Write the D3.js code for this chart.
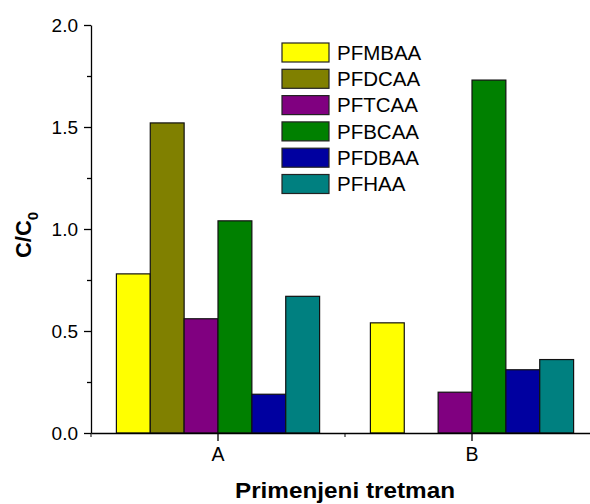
<!DOCTYPE html>
<html>
<head>
<meta charset="utf-8">
<script src="https://cdn.jsdelivr.net/npm/d3@7/dist/d3.min.js"></script>
<style>
  html, body { margin: 0; padding: 0; background: #fff; }
  svg { display: block; }
  text { font-family: "Liberation Sans", Arial, Helvetica, sans-serif; fill: #000; }
</style>
</head>
<body>
<svg id="chart" width="590" height="504"></svg>
<script>
// Treatments along the x axis
const categories = ["A", "B"];
// Compounds (one bar each per treatment)
const seriesNames = ["PFMBAA", "PFDCAA", "PFTCAA", "PFBCAA", "PFDBAA", "PFHAA"];
const seriesColors = ["#ffff00", "#808000", "#800080", "#008000", "#0000a0", "#008080"];
// C/C0 per compound, for A and B
const valuesA = [0.78, 1.52, 0.56, 1.04, 0.19, 0.67];
const valuesB = [0.54, 0.00, 0.20, 1.73, 0.31, 0.36];
const yTicks = [0, 0.5, 1.0, 1.5, 2.0];
const yMinorTicks = [0.25, 0.75, 1.25, 1.75];

const svg = d3.select("#chart");

const plotLeft = 91, plotRight = 599, plotTop = 25, plotBottom = 433;

const x = d3.scaleBand().domain(categories).range([plotLeft, plotRight]).padding(0);
const bw = x.bandwidth();
const xInner = d3.scaleBand().domain(seriesNames).range([bw * 0.1, bw * 0.9]).padding(0);
const y = d3.scaleLinear().domain([0, 2]).range([plotBottom, plotTop]);
const color = d3.scaleOrdinal().domain(seriesNames).range(seriesColors);

const rows = categories.map((c, i) => ({
  cat: c,
  vals: seriesNames.map((s, j) => ({ s, v: (i === 0 ? valuesA : valuesB)[j] }))
}));

// Bars
const groups = svg.append("g").selectAll("g").data(rows).join("g")
  .attr("transform", d => `translate(${x(d.cat)},0)`);
groups.selectAll("rect").data(d => d.vals.filter(e => e.v > 0)).join("rect")
  .attr("x", d => xInner(d.s))
  .attr("width", xInner.bandwidth())
  .attr("y", d => y(d.v))
  .attr("height", d => y(0) - y(d.v))
  .attr("fill", d => color(d.s))
  .attr("stroke", "#111")
  .attr("stroke-width", 1.2);

// Y axis
const yAxis = svg.append("g").attr("transform", `translate(${plotLeft},0)`)
  .call(d3.axisLeft(y).tickValues(yTicks).tickFormat(d3.format(".1f")).tickSize(7).tickPadding(6).tickSizeOuter(0));
yAxis.selectAll("text").style("font-size", "19px");
svg.append("g").attr("transform", `translate(${plotLeft},0)`)
  .call(d3.axisLeft(y).tickValues(yMinorTicks).tickFormat("").tickSize(4).tickSizeOuter(0))
  .select(".domain").remove();

// X axis
const xAxis = svg.append("g").attr("transform", `translate(0,${plotBottom})`)
  .call(d3.axisBottom(x).tickSize(8).tickPadding(6).tickSizeOuter(0));
xAxis.selectAll("text").style("font-size", "19.5px");
const xMinor = categories.map(c => x(c)).concat([x(categories[categories.length - 1]) + bw]);
svg.append("g").selectAll("line").data(xMinor).join("line")
  .attr("x1", d => d).attr("x2", d => d)
  .attr("y1", plotBottom).attr("y2", plotBottom + 4)
  .attr("stroke", "#000");

svg.selectAll(".domain, .tick line").attr("stroke", "#000").attr("stroke-width", 1.3);

// Axis titles
const xTitle = svg.append("text")
  .attr("x", (plotLeft + plotRight) / 2).attr("y", 498)
  .attr("text-anchor", "middle")
  .style("font-size", "21.5px").style("font-weight", "bold")
  .text("Primenjeni tretman");
// slightly wider lettering for the x title
xTitle.attr("textLength", xTitle.node().getComputedTextLength() * 1.13)
  .attr("lengthAdjust", "spacingAndGlyphs");

const yTitle = svg.append("text")
  .attr("transform", `translate(31,${(plotTop + plotBottom) / 2 + 6}) rotate(-90)`)
  .attr("text-anchor", "middle")
  .style("font-size", "22px").style("font-weight", "bold");
yTitle.append("tspan").text("C/C");
yTitle.append("tspan").attr("dy", 7).style("font-size", "15px").text("0");

// Legend
const legend = svg.append("g").attr("transform", "translate(282,43)");
const li = legend.selectAll("g").data(seriesNames).join("g")
  .attr("transform", (d, i) => `translate(0,${i * 26.3})`);
li.append("rect").attr("width", 47).attr("height", 19)
  .attr("fill", d => color(d)).attr("stroke", "#222").attr("stroke-width", 1.2);
li.append("text").attr("x", 55).attr("y", 9.5).attr("dy", "0.36em")
  .style("font-size", "20.5px").text(d => d);
</script>
</body>
</html>
